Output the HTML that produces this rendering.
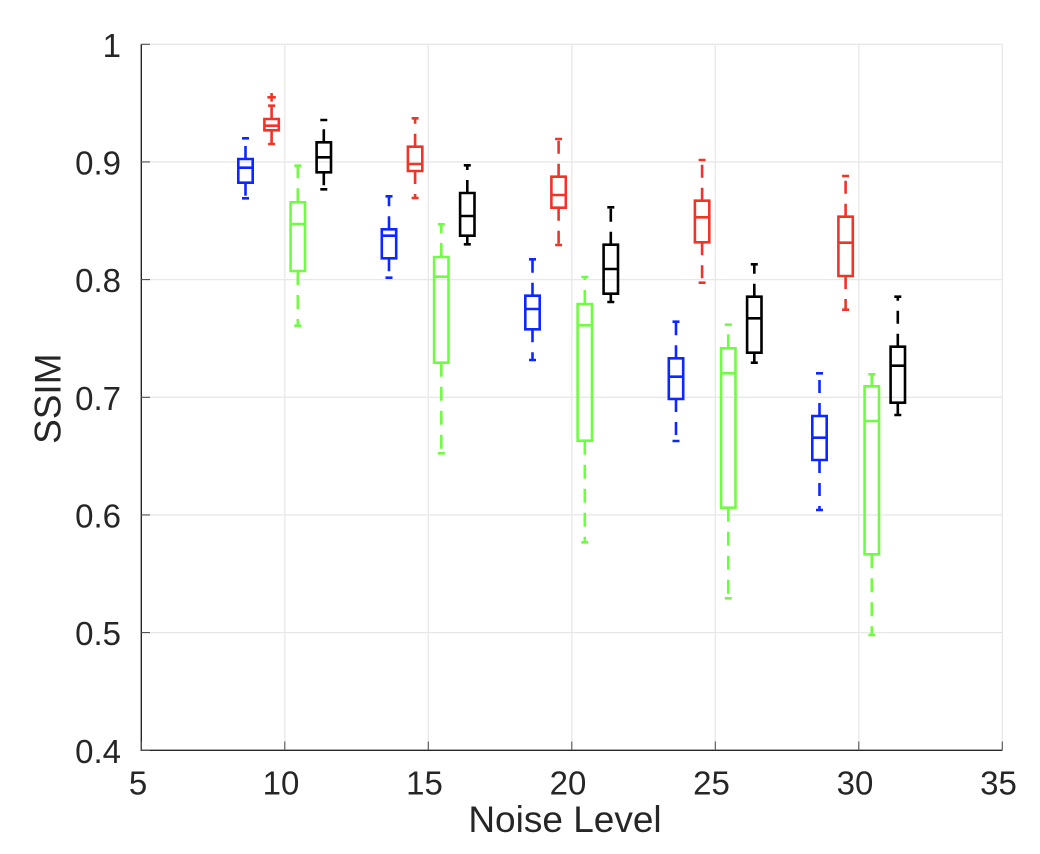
<!DOCTYPE html>
<html>
<head>
<meta charset="utf-8">
<style>
html,body{margin:0;padding:0;background:#fff;}
svg{display:block;}
text{font-family:"Liberation Sans",Arial,Helvetica,sans-serif;fill:#262626;}
</style>
</head>
<body>
<svg width="1040" height="854" viewBox="0 0 1040 854" xmlns="http://www.w3.org/2000/svg">
<rect width="1040" height="854" fill="#fff"/>
<!-- grid -->
<g stroke="#e8e8e8" stroke-width="1.3" fill="none">
<path d="M284.8 44.3V750.3 M428.3 44.3V750.3 M571.8 44.3V750.3 M715.3 44.3V750.3 M858.8 44.3V750.3 M1002.3 44.3V750.3"/>
<path d="M141.3 44.3H1002.3 M141.3 161.95H1002.3 M141.3 279.6H1002.3 M141.3 397.3H1002.3 M141.3 514.96H1002.3 M141.3 632.6H1002.3"/>
</g>
<!-- axes -->
<g stroke="#262626" stroke-width="1.4" fill="none">
<path d="M141.3 44.3V750.3H1002.3"/>
</g>
<g stroke="#555" stroke-width="1.1" fill="none">
<path d="M141.3 750.3V741.5 M284.8 750.3V741.5 M428.3 750.3V741.5 M571.8 750.3V741.5 M715.3 750.3V741.5 M858.8 750.3V741.5 M1002.3 750.3V741.5"/>
<path d="M141.3 44.3H150 M141.3 161.95H150 M141.3 279.6H150 M141.3 397.3H150 M141.3 514.96H150 M141.3 632.6H150 M141.3 750.3H150"/>
</g>
<!-- y tick labels -->
<g font-size="33" text-anchor="end">
<text x="121" y="56.8">1</text>
<text x="121" y="174.5">0.9</text>
<text x="121" y="292.1">0.8</text>
<text x="121" y="409.8">0.7</text>
<text x="121" y="527.5">0.6</text>
<text x="121" y="645.1">0.5</text>
<text x="121" y="762.8">0.4</text>
</g>
<!-- x tick labels -->
<g font-size="33" text-anchor="middle">
<text x="138" y="794.5">5</text>
<text x="281" y="794.5">10</text>
<text x="424.5" y="794.5">15</text>
<text x="568" y="794.5">20</text>
<text x="711.5" y="794.5">25</text>
<text x="855" y="794.5">30</text>
<text x="998.5" y="794.5">35</text>
</g>
<text x="565" y="832" font-size="37" text-anchor="middle">Noise Level</text>
<text transform="translate(60.5,398.7) rotate(-90)" font-size="37" text-anchor="middle">SSIM</text>

<!-- BLUE -->
<g stroke="#0a28ff" stroke-width="2.6" fill="none" stroke-linejoin="miter">
<path d="M238.3 159H252.7V182.7H238.3Z M238.3 167.7H252.7 M242 138.3H249 M242 198.3H249
M381.8 229.3H396.2V258.3H381.8Z M381.8 235.7H396.2 M385.5 196.3H392.5 M385.5 277.7H392.5
M525.3 295.7H539.7V329.3H525.3Z M525.3 309H539.7 M529 259.3H536 M529 360H536
M668.8 358.3H683.2V399H668.8Z M668.8 376.7H683.2 M672.5 321.7H679.5 M672.5 441H679.5
M812.3 416H826.7V460H812.3Z M812.3 437.7H826.7 M816 373.3H823 M816 510H823"/>
<path stroke-dasharray="13 10" d="M245.5 159V138.3 M245.5 182.7V198.3 M389 229.3V196.3 M389 258.3V277.7 M532.5 295.7V259.3 M532.5 329.3V360 M676 358.3V321.7 M676 399V441 M819.5 416V373.3 M819.5 460V510"/>
</g>

<!-- RED -->
<g stroke="#ee3526" stroke-width="2.6" fill="none">
<path d="M264.4 119H278.8V130.3H264.4Z M264.4 125.7H278.8 M268.1 105.7H275.1 M268.1 144H275.1
M407.9 146.7H422.3V171H407.9Z M407.9 164H422.3 M411.6 118.3H418.6 M411.6 198H418.6
M551.4 176.7H565.8V207.7H551.4Z M551.4 195H565.8 M555.1 139H562.1 M555.1 245H562.1
M694.9 200.7H709.3V242.3H694.9Z M694.9 217.3H709.3 M698.6 160H705.6 M698.6 282.7H705.6
M838.4 216.7H852.8V276H838.4Z M838.4 242.7H852.8 M842.1 176H849.1 M842.1 309.7H849.1"/>
<path stroke-dasharray="13 10" d="M271.6 119V105.7 M271.6 130.3V144 M415.1 146.7V118.3 M415.1 171V198 M558.6 176.7V139 M558.6 207.7V245 M702.1 200.7V160 M702.1 242.3V282.7 M845.6 216.7V176 M845.6 276V309.7"/>
<path d="M267.4 97.3H275.8 M271.6 93V101.6"/>
</g>

<!-- GREEN -->
<g stroke="#72fb45" stroke-width="2.6" fill="none">
<path d="M290.6 202.3H305V271H290.6Z M290.6 224H305 M294.3 165.7H301.3 M294.3 325.7H301.3
M434.1 257H448.5V362.7H434.1Z M434.1 276.7H448.5 M437.8 224.3H444.8 M437.8 453.3H444.8
M577.6 304H592V440.7H577.6Z M577.6 325.3H592 M581.3 277H588.3 M581.3 542.3H588.3
M721.1 348.3H735.5V507.7H721.1Z M721.1 373.3H735.5 M724.8 324.7H731.8 M724.8 598.3H731.8
M864.6 386.3H879V554.3H864.6Z M864.6 421H879 M868.3 374.3H875.3 M868.3 635H875.3"/>
<path stroke-dasharray="14 10" d="M297.8 202.3V165.7 M297.8 271V325.7 M441.3 257V224.3 M441.3 362.7V453.3 M584.8 304V277 M584.8 440.7V542.3 M728.3 348.3V324.7 M728.3 507.7V598.3 M871.8 386.3V374.3 M871.8 554.3V635"/>
</g>

<!-- BLACK -->
<g stroke="#000" stroke-width="2.6" fill="none">
<path d="M316.6 142.3H331V172.3H316.6Z M316.6 157.3H331 M320.3 120H327.3 M320.3 189.3H327.3
M460.1 193H474.5V235.7H460.1Z M460.1 216H474.5 M463.8 165.3H470.8 M463.8 244.3H470.8
M603.6 244.7H618V293.7H603.6Z M603.6 269H618 M607.3 207.3H614.3 M607.3 302H614.3
M747.1 296.7H761.5V352.7H747.1Z M747.1 318.3H761.5 M750.8 264.3H757.8 M750.8 362.7H757.8
M890.6 346.7H905V402.7H890.6Z M890.6 365.7H905 M894.3 296.7H901.3 M894.3 415H901.3"/>
<path stroke-dasharray="13 10" d="M323.8 142.3V120 M323.8 172.3V189.3 M467.3 193V165.3 M467.3 235.7V244.3 M610.8 244.7V207.3 M610.8 293.7V302 M754.3 296.7V264.3 M754.3 352.7V362.7 M897.8 346.7V296.7 M897.8 402.7V415"/>
</g>
</svg>
</body>
</html>
